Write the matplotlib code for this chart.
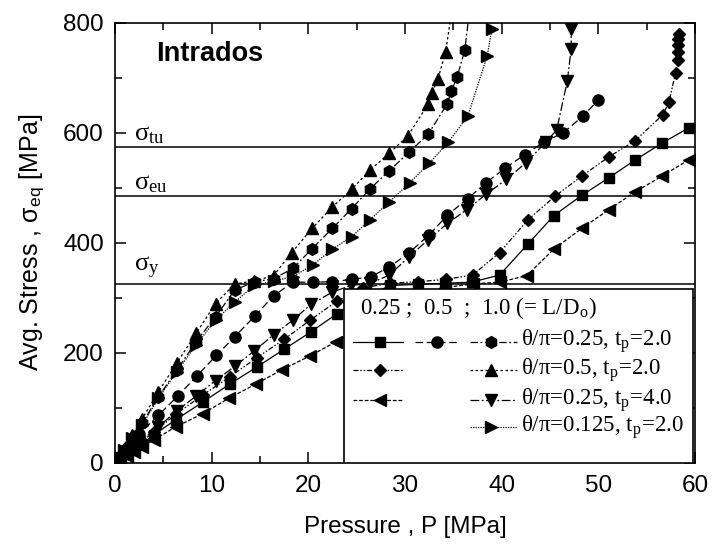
import matplotlib
matplotlib.use('Agg')
import matplotlib.pyplot as plt
from matplotlib.patches import Rectangle
from matplotlib.ticker import MultipleLocator

plt.rcParams['font.family'] = ['Liberation Sans', 'DejaVu Sans']
plt.rcParams['mathtext.fontset'] = 'stix'

# reference stress levels [MPa]
sig_y = 324
sig_eu = 484
sig_tu = 574

# L/D=0.25, theta/pi=0.25, tp=2.0 (square)
p_sq = [0, 0.5, 1.2, 2.0, 2.8, 4.0, 6.3, 9.1, 11.9, 14.7, 17.5, 20.3, 23.0, 25.7, 28.5,
        31.3, 34.1, 36.9, 39.8, 42.7, 45.4, 48.3, 51.1, 53.8, 56.6, 59.4]
s_sq = [0, 6, 15, 24, 34, 50, 78, 110, 143, 174, 206, 238, 271, 300, 322,
        324, 326, 328, 341, 397, 449, 486, 518, 550, 581, 609]

# L/D=0.5, theta/pi=0.25, tp=2.0 (circle)
p_ci = [0, 0.5, 1.5, 2.5, 4.5, 6.5, 8.5, 10.5, 12.4, 14.5, 16.4, 18.4, 20.5, 22.5, 24.5,
        26.5, 28.4, 30.4, 32.5, 34.4, 36.5, 38.4, 40.4, 42.4, 44.4, 46.4, 48.4, 50.0]
s_ci = [0, 10, 30, 52, 86, 121, 158, 195, 229, 267, 303, 328, 328, 329, 333,
        338, 356, 381, 414, 450, 480, 509, 536, 560, 583, 600, 630, 659]

# L/D=1.0, theta/pi=0.25, tp=2.0 (hexagon)
p_hx = [0, 0.4, 0.9, 1.8, 2.8, 4.5, 6.4, 8.4, 10.4, 12.4, 14.5, 16.4, 18.4, 20.4, 22.5,
        24.5, 26.4, 28.4, 30.4, 32.4, 34.4, 34.8, 35.4, 36.2, 36.8]
s_hx = [0, 10, 22, 45, 71, 120, 168, 220, 265, 314, 329, 334, 353, 389, 426,
        462, 498, 531, 564, 597, 653, 676, 701, 751, 840]

# L/D=0.25, theta/pi=0.5, tp=2.0 (diamond)
p_dm = [0, 0.5, 1.2, 2.0, 2.8, 4.0, 6.3, 9.1, 11.9, 14.7, 17.5, 20.2, 23.0, 25.7, 28.5,
        31.4, 34.2, 37.0, 39.8, 42.7, 45.5, 48.3, 51.1, 53.8, 56.7, 57.3, 58.0, 58.3,
        58.3, 58.3, 58.3, 58.4]
s_dm = [0, 7, 17, 28, 39, 55, 88, 123, 156, 191, 224, 259, 294, 318, 326,
        329, 333, 341, 382, 441, 484, 521, 556, 585, 633, 655, 709, 733,
        747, 759, 771, 780]

# L/D=1.0, theta/pi=0.5, tp=2.0 (up triangle)
p_ut = [0, 0.4, 0.9, 1.8, 2.8, 4.5, 6.4, 8.4, 10.4, 12.4, 14.4, 16.4, 18.3, 20.4, 22.5,
        24.5, 26.4, 28.4, 30.3, 32.4, 32.8, 33.4, 34.2, 35.0]
s_ut = [0, 12, 25, 50, 79, 129, 181, 235, 289, 325, 330, 340, 382, 426, 465,
        497, 532, 563, 594, 652, 673, 697, 746, 840]

# L/D=0.25, theta/pi=0.25, tp=4.0 (left triangle)
p_lt = [0, 0.5, 1.2, 2.0, 2.8, 4.0, 6.3, 9.1, 11.8, 14.6, 17.3, 20.2, 22.9, 25.7, 28.5,
        31.3, 34.1, 37.0, 39.8, 42.6, 45.4, 48.3, 51.1, 53.8, 56.6, 59.4]
s_lt = [0, 5, 12, 20, 28, 41, 65, 89, 117, 143, 169, 194, 220, 245, 270,
        295, 318, 325, 328, 340, 388, 426, 460, 492, 521, 551]

# L/D=1.0, theta/pi=0.25, tp=4.0 (down triangle)
p_dt = [0, 0.5, 1.5, 2.5, 4.5, 6.4, 8.4, 10.4, 12.4, 14.4, 16.4, 18.4, 20.3, 22.5, 24.4,
        26.4, 28.4, 30.4, 32.4, 34.4, 36.4, 38.4, 40.5, 42.5, 44.6, 45.7, 46.8, 47.2, 47.2]
s_dt = [0, 8, 22, 37, 65, 94, 121, 149, 175, 203, 232, 259, 288, 310, 322,
        326, 341, 374, 405, 435, 460, 488, 515, 545, 583, 605, 694, 753, 789]

# L/D=1.0, theta/pi=0.125, tp=2.0 (right triangle)
p_rt = [0, 0.4, 0.9, 1.8, 2.8, 4.5, 6.4, 8.4, 10.4, 12.4, 14.4, 16.4, 18.4, 20.5, 22.5,
        24.5, 26.4, 28.4, 30.5, 32.5, 34.5, 36.5, 38.5, 39.0]
s_rt = [0, 10, 22, 44, 68, 117, 165, 214, 259, 292, 322, 330, 338, 360, 388,
        411, 442, 474, 509, 544, 583, 630, 739, 788]

# line style per series
st_sq = dict(marker='s', ls='-', ms=7)
st_ci = dict(marker='o', ls=(0, (6, 3)), ms=8)
st_hx = dict(marker='h', ls=(0, (6, 2, 1.5, 2)), ms=8.5)
st_dm = dict(marker='D', ls=(0, (4, 1.5, 1.2, 1.5, 1.2, 1.5)), ms=6.5)
st_ut = dict(marker='^', ls=(0, (2, 2)), ms=8)
st_lt = dict(marker='<', ls=(0, (3, 1.5)), ms=8)
st_dt = dict(marker='v', ls=(0, (7, 2, 1.5, 2)), ms=8)
st_rt = dict(marker='>', ls=(0, (1, 1)), ms=8)

fig = plt.figure(figsize=(7.12, 5.52), dpi=100)
ax = fig.add_axes([0.1615, 0.1621, 0.8145, 0.7968])

series = [(p_sq, s_sq, st_sq), (p_ci, s_ci, st_ci), (p_hx, s_hx, st_hx),
          (p_dm, s_dm, st_dm), (p_ut, s_ut, st_ut), (p_lt, s_lt, st_lt),
          (p_dt, s_dt, st_dt), (p_rt, s_rt, st_rt)]
for p, s, st in series:
    ax.plot(p, s, color='black', lw=0.9, mfc='black', mec='black', **st)

for lev in (sig_y, sig_eu, sig_tu):
    ax.axhline(lev, color='black', lw=1.1)

ax.text(2.0, sig_tu + 22, r'σ$_{\mathregular{tu}}$', family='Liberation Serif', fontsize=19, va='center')
ax.text(2.0, sig_eu + 22, r'σ$_{\mathregular{eu}}$', family='Liberation Serif', fontsize=19, va='center')
ax.text(2.0, sig_y + 30, r'σ$_{\mathregular{y}}$', family='Liberation Serif', fontsize=19, va='center')
ax.text(4.3, 743, 'Intrados', fontsize=19.5, fontweight='bold', va='center')

ax.set_xlim(0, 60)
ax.set_ylim(0, 800)
ax.xaxis.set_major_locator(MultipleLocator(10))
ax.xaxis.set_minor_locator(MultipleLocator(5))
ax.yaxis.set_major_locator(MultipleLocator(200))
ax.yaxis.set_minor_locator(MultipleLocator(100))
ax.tick_params(which='both', direction='in', top=True, right=True, width=1.1)
ax.tick_params(which='major', length=8, labelsize=17.5)
ax.tick_params(axis='x', which='major', pad=9)
ax.tick_params(axis='y', which='major', pad=8)
ax.tick_params(which='minor', length=5)
for sp in ax.spines.values():
    sp.set_linewidth(1.2)

ax.set_xlabel('Pressure , P [MPa]', fontsize=17.5, labelpad=14)
ax.set_ylabel(r'Avg. Stress , σ$_{\mathregular{eq}}$ [MPa]', fontsize=18, labelpad=12)

# hand-made legend box
tr = ax.transAxes
ax.add_patch(Rectangle((0.395, 0.0), 0.602, 0.395, transform=tr, facecolor='white',
                       edgecolor='black', lw=1.2, zorder=5))
lf = dict(transform=tr, family='Liberation Serif', fontsize=16.5, va='center', zorder=6)
ax.text(0.422, 0.352, r'0.25 ;  0.5  ;  1.0 (= L/D$_{\mathregular{o}}$)', **lf)

cols = [(0.410, 0.497, 0.457), (0.517, 0.591, 0.555), (0.612, 0.693, 0.649)]
rows = [(0.275, [st_sq, st_ci, st_hx], r'θ/π=0.25, t$_{\mathregular{p}}$=2.0'),
        (0.210, [st_dm, None, st_ut], r'θ/π=0.5, t$_{\mathregular{p}}$=2.0'),
        (0.142, [st_lt, None, st_dt], r'θ/π=0.25, t$_{\mathregular{p}}$=4.0'),
        (0.081, [None, None, st_rt], r'θ/π=0.125, t$_{\mathregular{p}}$=2.0')]
for yy, sts, lab in rows:
    for (x0, x1, xm), st in zip(cols, sts):
        if st is None:
            continue
        ax.plot([x0, x1], [yy, yy], transform=tr, color='black', lw=0.9, ls=st['ls'],
                zorder=6, clip_on=False)
        ax.plot([xm], [yy], transform=tr, color='black', marker=st['marker'], ms=st['ms'],
                ls='none', zorder=7, clip_on=False)
    ax.text(0.700, yy, lab, **lf)

fig.savefig('out.png', dpi=100)
